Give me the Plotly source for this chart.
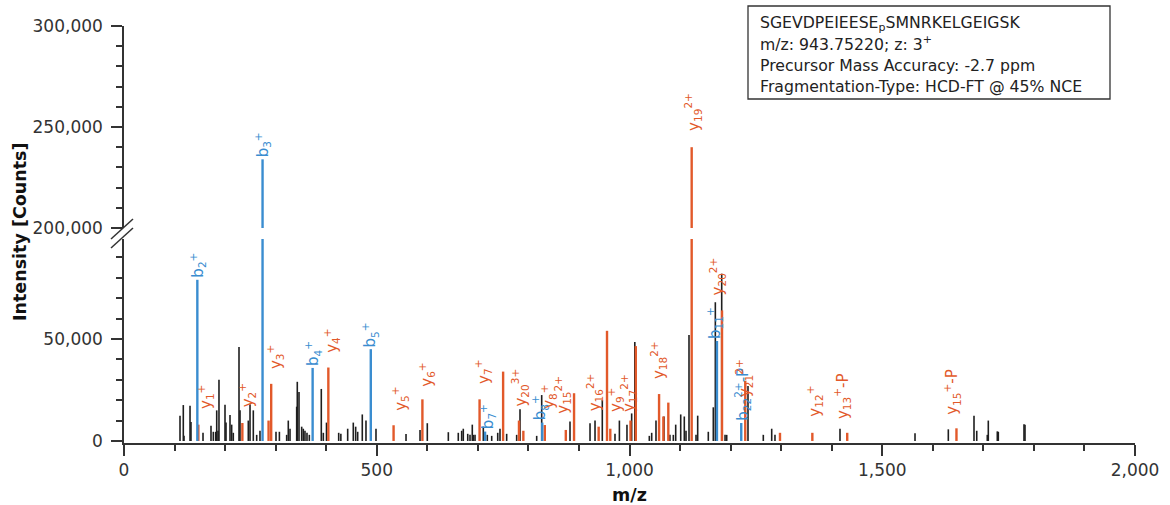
import plotly.graph_objects as go

# ---------------- spectrum data ----------------
# unassigned peaks (m/z, intensity in counts)
other_mz = [110.8, 117.3, 118.7, 130.6, 132.5, 156.3, 172.1, 176.7, 181.4, 183.4,
            186.0, 187.9, 199.8, 201.8, 209.7, 213.0, 216.2, 227.5, 229.5, 245.9,
            249.3, 255.8, 262.5, 269.0, 300.7, 307.4, 321.8, 325.0, 328.4, 341.6,
            342.8, 346.2, 351.5, 354.7, 358.0, 362.0, 366.6, 390.3, 394.3, 400.6,
            424.7, 429.0, 442.5, 453.6, 458.3, 462.3, 471.4, 478.7, 498.5, 557.9,
            585.6, 600.0, 641.6, 661.3, 668.0, 671.2, 680.0, 684.5, 689.0, 691.0,
            694.4, 710.8, 718.7, 727.4, 739.3, 743.8, 757.0, 776.8, 783.4, 816.4,
            826.3, 882.3, 921.9, 931.8, 946.2, 971.3, 980.0, 995.0, 1004.3, 1010.5,
            1039.2, 1043.9, 1052.4, 1068.2, 1080.0, 1086.7, 1091.4, 1101.3, 1108.4, 1111.8,
            1117.7, 1131.6, 1134.9, 1155.9, 1165.8, 1169.8, 1182.4, 1189.0, 1192.3, 1234.4,
            1264.7, 1281.3, 1287.8, 1416.4, 1564.8, 1630.7, 1681.5, 1686.9, 1707.8, 1709.8,
            1727.6, 1729.6, 1780.4, 1782.4]
other_int = [12400, 17600, 2500, 17200, 9300, 4000, 7500, 4500, 4500, 15000,
             5000, 30000, 17800, 9000, 12700, 8000, 4000, 46000, 15000, 10000,
             18000, 15000, 3000, 5000, 4500, 4500, 3000, 10000, 6000, 16800,
             29000, 24000, 7000, 6000, 5000, 4000, 3000, 25500, 4000, 9000,
             4000, 3500, 6000, 9000, 7000, 4500, 13000, 10000, 6000, 3400,
             5400, 8700, 4300, 4000, 5000, 6000, 3500, 3000, 8000, 3000,
             3000, 7000, 3000, 2500, 4000, 6000, 3500, 3000, 15500, 2500,
             22500, 9500, 8700, 10000, 20000, 3500, 10000, 8000, 13500, 48500,
             2500, 4000, 10000, 12000, 3000, 3000, 8000, 13000, 12000, 5000,
             52000, 3000, 12400, 4500, 16500, 68000, 82000, 3000, 3000, 27000,
             3000, 6000, 3000, 6000, 3800, 5700, 12400, 5000, 3000, 10000,
             4700, 4500, 8200, 8000]

# b-type fragment ions
b_mz = [145.06, 274.09, 373.16, 488.19, 714.28, 827.36, 1173.0, 1221.07]
b_int = [79000, 234000, 35800, 45000, 4600, 9000, 49000, 8800]
b_label = ["b<sub>2</sub><sup>+</sup>", "b<sub>3</sub><sup>+</sup>", "b<sub>4</sub><sup>+</sup>",
           "b<sub>5</sub><sup>+</sup>", "b<sub>7</sub><sup>+</sup>", "b<sub>8</sub><sup>+</sup>",
           "b<sub>11</sub><sup>+</sup>", "b<sub>22</sub><sup>2+</sup>-P"]

# y-type fragment ions ("" = not annotated)
y_mz = [147.11, 234.14, 286.0, 291.16, 404.24, 533.29, 590.31, 703.4, 750.0, 781.35,
        790.0, 832.44, 874.0, 890.3, 939.0, 955.5, 962.0, 1002.0, 1012.5, 1058.5,
        1067.0, 1076.8, 1123.0, 1183.0, 1229.0, 1297.7, 1361.7, 1430.7, 1646.8]
y_int = [8000, 8800, 10000, 28000, 36000, 7700, 20400, 20400, 34000, 10000,
         5000, 7800, 5400, 23400, 7000, 54000, 6000, 10000, 46500, 23000,
         12000, 18800, 240000, 64000, 29500, 4000, 4000, 4000, 6200]
y_label = ["y<sub>1</sub><sup>+</sup>", "y<sub>2</sub><sup>+</sup>", "", "y<sub>3</sub><sup>+</sup>",
           "y<sub>4</sub><sup>+</sup>", "y<sub>5</sub><sup>+</sup>", "y<sub>6</sub><sup>+</sup>",
           "y<sub>7</sub><sup>+</sup>", "", "y<sub>20</sub><sup>3+</sup>", "", "y<sub>8</sub><sup>+</sup>",
           "y<sub>15</sub><sup>2+</sup>", "", "y<sub>16</sub><sup>2+</sup>", "", "y<sub>9</sub><sup>+</sup>",
           "y<sub>17</sub><sup>2+</sup>", "", "y<sub>18</sub><sup>2+</sup>", "", "",
           "y<sub>19</sub><sup>2+</sup>", "y<sub>20</sub><sup>2+</sup>", "y<sub>21</sub><sup>2+</sup>", "",
           "y<sub>12</sub><sup>+</sup>", "y<sub>13</sub><sup>+</sup>-P", "y<sub>15</sub><sup>+</sup>-P"]

info_lines = ["SGEVDPEIEESE<sub>p</sub>SMNRKELGEIGSK",
              "m/z: 943.75220; z: 3<sup>+</sup>",
              "Precursor Mass Accuracy: -2.7 ppm",
              "Fragmentation-Type: HCD-FT @ 45% NCE"]

# ---------------- styling ----------------
FONT = "DejaVu Sans"
BLACK = "#1e1e1e"
BLUE = "#3a8dd0"
ORANGE = "#e2592a"
AXIS = "#333333"

LOW_RANGE = [-1000, 99000]
HIGH_RANGE = [200000, 300000]
BREAK_AT = 100000

# label placement tweaks: (horizontal px shift, vertical px gap above the peak)
b_shift = {0: (0, 1), 1: (0, 1), 2: (0, 1), 3: (-1, 1), 4: (2, 1), 5: (-3, 1), 6: (-3, 1), 7: (1, 1)}
y_shift = {0: (7, 15), 1: (4, 15), 3: (4, 14), 4: (3, 14), 5: (6, 13), 6: (4, 12), 7: (3, 14),
           9: (1, 13), 11: (3, 15), 12: (-3, 15), 14: (-4, 14), 16: (5, 16), 17: (-2, 7),
           19: (-1, 14), 22: (1, 15), 23: (-5, 14), 24: (-1, -17), 26: (2, 15), 27: (-5, 13),
           28: (-5, 13)}


def sticks(mz, inten):
    xs, ys = [], []
    for m, v in zip(mz, inten):
        xs += [m, m, None]
        ys += [0, v, None]
    return xs, ys


fig = go.Figure()

for mz, inten, color, width in [(other_mz, other_int, BLACK, 1.6),
                                (y_mz, y_int, ORANGE, 2.4),
                                (b_mz, b_int, BLUE, 2.4)]:
    xs, ys = sticks(mz, inten)
    fig.add_trace(go.Scatter(x=xs, y=ys, mode="lines", xaxis="x", yaxis="y",
                             line=dict(color=color, width=width), hoverinfo="skip",
                             showlegend=False))
    tall = [(m, v) for m, v in zip(mz, inten) if v > HIGH_RANGE[0]]
    if tall:
        xs, ys = sticks([t[0] for t in tall], [t[1] for t in tall])
        ys = [HIGH_RANGE[0] if (y == 0) else y for y in ys]
        fig.add_trace(go.Scatter(x=xs, y=ys, mode="lines", xaxis="x", yaxis="y2",
                                 line=dict(color=color, width=width), hoverinfo="skip",
                                 showlegend=False))

annotations = []


def add_labels(mz, inten, labels, shifts, color):
    for i, (m, v, lab) in enumerate(zip(mz, inten, labels)):
        if not lab:
            continue
        dx, gap = shifts.get(i, (0, 1))
        annotations.append(dict(
            x=m, y=v, xref="x", yref="y2" if v > BREAK_AT else "y",
            text=lab, textangle=-90, showarrow=False,
            xanchor="center", yanchor="bottom", xshift=dx, yshift=gap,
            font=dict(family=FONT, size=15, color=color), borderpad=0))


add_labels(b_mz, b_int, b_label, b_shift, BLUE)
add_labels(y_mz, y_int, y_label, y_shift, ORANGE)

# geometry helpers (pixel -> paper)
L, R, T, B = 124, 1135, 26, 443
W, H = R - L, B - T


def px(x):
    return (x - L) / W


def py(y):
    return (B - y) / H


annotations.append(dict(x=px(20), y=py(232), xref="paper", yref="paper",
                        text="Intensity [Counts]", textangle=-90, showarrow=False,
                        xanchor="center", yanchor="middle",
                        font=dict(family=FONT, size=17.5, color="#111", weight="bold")))
annotations.append(dict(x=px(629), y=py(495), xref="paper", yref="paper", text="m/z",
                        showarrow=False, xanchor="center", yanchor="middle",
                        font=dict(family=FONT, size=17.5, color="#111", weight="bold")))

for line, yc in zip(info_lines, [23, 44, 66, 86]):
    annotations.append(dict(x=px(758), y=py(yc), xref="paper", yref="paper", text=line,
                            showarrow=False, xanchor="left", yanchor="middle",
                            font=dict(family=FONT, size=15.7, color="#222")))

shapes = [
    dict(type="rect", xref="paper", yref="paper", x0=px(748), x1=px(1110), y0=py(99), y1=py(6),
         line=dict(color="#333", width=1.3), fillcolor="rgba(0,0,0,0)"),
    # axis break marks
    dict(type="line", xref="paper", yref="paper", x0=px(111), y0=py(239), x1=px(133), y1=py(219),
         line=dict(color=AXIS, width=1.5)),
    dict(type="line", xref="paper", yref="paper", x0=px(111), y0=py(248), x1=px(133), y1=py(228),
         line=dict(color=AXIS, width=1.5)),
]

common_y = dict(showline=True, linecolor=AXIS, linewidth=1.5, ticks="outside", ticklen=11,
                tickwidth=1.5, tickcolor=AXIS, tickformat=",d", dtick=50000, tick0=0,
                showgrid=False, zeroline=False, automargin=False, ticklabelstandoff=5,
                tickfont=dict(family=FONT, size=17, color="#333"),
                minor=dict(dtick=10000, tick0=0, ticks="outside", ticklen=6, tickwidth=1.5,
                           tickcolor=AXIS, showgrid=False))

fig.update_layout(
    width=1170, height=505,
    margin=dict(l=L, r=1170 - R, t=T, b=505 - B),
    paper_bgcolor="white", plot_bgcolor="white",
    showlegend=False,
    xaxis=dict(range=[0, 2000], domain=[0, 1], anchor="y", showline=True, linecolor=AXIS,
               linewidth=1.5, ticks="outside", ticklen=11, tickwidth=1.5, tickcolor=AXIS,
               dtick=500, tick0=0, tickformat=",d", showgrid=False, zeroline=False,
               automargin=False, tickfont=dict(family=FONT, size=17, color="#333"),
               minor=dict(dtick=100, ticks="outside", ticklen=6, tickwidth=1.5, tickcolor=AXIS,
                          showgrid=False)),
    yaxis=dict(range=LOW_RANGE, domain=[0, py(239)], anchor="x", **common_y),
    yaxis2=dict(range=HIGH_RANGE, domain=[py(228), 1], anchor="x", **common_y),
    annotations=annotations,
    shapes=shapes,
)

fig.write_html("out.html")
